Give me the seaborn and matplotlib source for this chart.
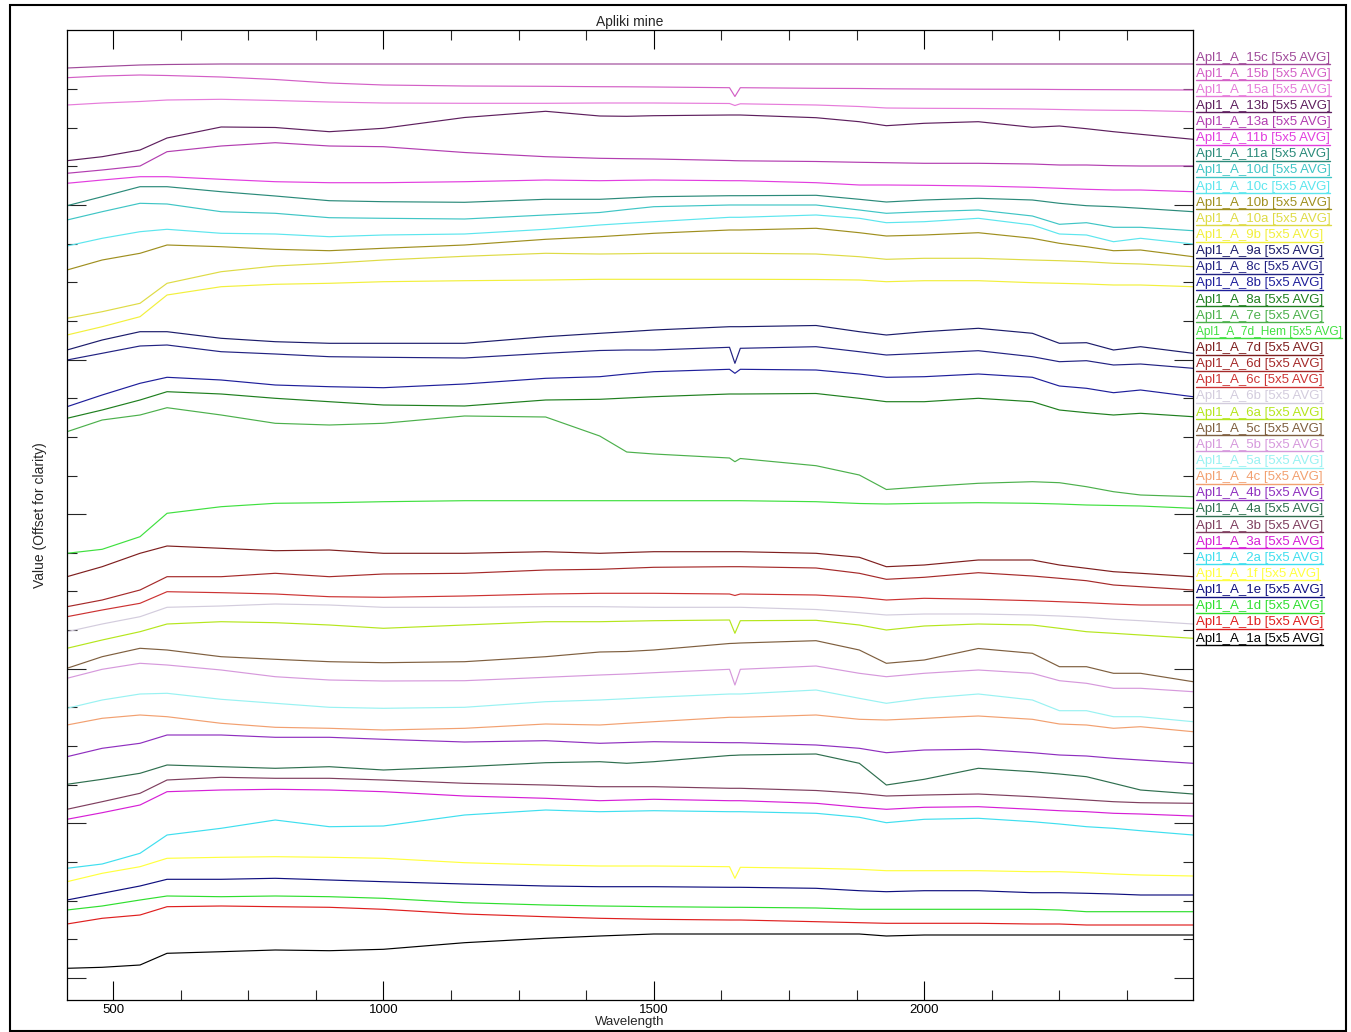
import numpy as np
import pandas as pd
import matplotlib
matplotlib.use("Agg")
import matplotlib.pyplot as plt
import seaborn as sns
from matplotlib.lines import Line2D
from matplotlib.patches import Rectangle
from matplotlib.ticker import FixedLocator, MultipleLocator

# ---------------- data (offset values, arbitrary units) ----------------
wavelength = [415, 480, 550, 600, 700, 800, 900, 1000, 1150, 1300, 1400, 1450, 1500,
              1640, 1650, 1660, 1800, 1880, 1930, 2000, 2100, 2200, 2250, 2300, 2350, 2400, 2497]

names = ["Apl1_A_15c", "Apl1_A_15b", "Apl1_A_15a", "Apl1_A_13b", "Apl1_A_13a", "Apl1_A_11b",
         "Apl1_A_11a", "Apl1_A_10d", "Apl1_A_10c", "Apl1_A_10b", "Apl1_A_10a", "Apl1_A_9b",
         "Apl1_A_9a", "Apl1_A_8c", "Apl1_A_8b", "Apl1_A_8a", "Apl1_A_7e", "Apl1_A_7d_Hem",
         "Apl1_A_7d", "Apl1_A_6d", "Apl1_A_6c", "Apl1_A_6b", "Apl1_A_6a", "Apl1_A_5c",
         "Apl1_A_5b", "Apl1_A_5a", "Apl1_A_4c", "Apl1_A_4b", "Apl1_A_4a", "Apl1_A_3b",
         "Apl1_A_3a", "Apl1_A_2a", "Apl1_A_1f", "Apl1_A_1e", "Apl1_A_1d", "Apl1_A_1b", "Apl1_A_1a"]

colors = ["#A04A9A", "#D35FC6", "#E67BDA", "#5E1F5E", "#B23DB0", "#E23DDF",
          "#2B8A7A", "#3FC5C5", "#5CE6EE", "#9F8F1F", "#DEDB45", "#F2F03C",
          "#1C1C6B", "#222282", "#1F1F9B", "#1F7F1F", "#4CB04C", "#3FE03F",
          "#7F1F1F", "#A52A2A", "#CC3333", "#D3CCDD", "#B5E61D", "#7F5F3F",
          "#D699DC", "#99F2F2", "#F2A070", "#8F2FBF", "#2F6F4F", "#7F3F5F",
          "#D61FD6", "#3FDFEF", "#FFFF3F", "#0F0F7F", "#2FDF2F", "#DF1F1F", "#000000"]

s_15c = [93.20, 93.35, 93.50, 93.55, 93.60, 93.60, 93.60, 93.60, 93.60, 93.60, 93.60, 93.60, 93.60,
         93.60, 93.60, 93.60, 93.60, 93.60, 93.60, 93.60, 93.60, 93.60, 93.60, 93.60, 93.60, 93.60, 93.60]
s_15b = [92.23, 92.40, 92.50, 92.45, 92.30, 92.05, 91.70, 91.50, 91.40, 91.37, 91.33, 91.32, 91.30,
         91.23, 90.35, 91.23, 91.17, 91.15, 91.12, 91.10, 91.08, 91.07, 91.05, 91.04, 91.03, 91.02, 91.00]
s_15a = [89.50, 89.70, 89.85, 90.00, 90.07, 89.95, 89.80, 89.70, 89.67, 89.67, 89.70, 89.70, 89.70,
         89.65, 89.45, 89.62, 89.50, 89.35, 89.20, 89.17, 89.15, 89.10, 89.05, 89.00, 88.97, 88.95, 88.83]
s_13b = [83.93, 84.33, 85.00, 86.20, 87.30, 87.25, 86.83, 87.17, 88.25, 88.87, 88.40, 88.37, 88.43,
         88.50, 88.50, 88.50, 88.23, 87.83, 87.43, 87.67, 87.83, 87.27, 87.40, 87.13, 86.83, 86.57, 86.07]
s_13a = [82.67, 83.00, 83.40, 84.83, 85.40, 85.73, 85.40, 85.33, 84.75, 84.33, 84.17, 84.13, 84.10,
         83.95, 83.93, 83.92, 83.85, 83.77, 83.73, 83.67, 83.67, 83.60, 83.50, 83.50, 83.43, 83.40, 83.40]
s_11b = [81.67, 82.00, 82.33, 82.33, 82.07, 81.83, 81.73, 81.73, 81.83, 82.00, 81.93, 81.97, 82.00,
         81.93, 81.93, 81.93, 81.73, 81.50, 81.50, 81.47, 81.40, 81.27, 81.17, 81.07, 81.00, 81.00, 80.83]
s_11a = [79.43, 80.33, 81.33, 81.33, 80.83, 80.40, 79.93, 79.83, 79.77, 80.07, 80.07, 80.20, 80.33,
         80.43, 80.43, 80.43, 80.47, 80.07, 79.80, 80.00, 80.17, 80.00, 79.67, 79.43, 79.33, 79.17, 78.83]
s_10d = [78.00, 78.83, 79.67, 79.60, 78.83, 78.67, 78.23, 78.17, 78.10, 78.50, 78.75, 79.05, 79.33,
         79.50, 79.50, 79.50, 79.50, 79.00, 78.67, 78.83, 79.00, 78.40, 77.57, 77.73, 77.27, 77.27, 76.93]
s_10c = [75.40, 76.17, 76.83, 77.07, 76.67, 76.60, 76.33, 76.50, 76.60, 77.07, 77.50, 77.67, 77.83,
         78.27, 78.27, 78.27, 78.50, 78.17, 77.73, 77.83, 78.17, 77.50, 76.60, 76.50, 75.83, 76.17, 75.60]
s_10b = [73.00, 74.00, 74.67, 75.50, 75.33, 75.07, 74.93, 75.17, 75.50, 76.07, 76.33, 76.50, 76.67,
         77.00, 77.00, 77.00, 77.17, 76.73, 76.40, 76.50, 76.73, 76.17, 75.67, 75.33, 74.93, 75.00, 74.33]
s_10a = [68.17, 68.83, 69.67, 71.67, 72.83, 73.40, 73.67, 74.00, 74.37, 74.67, 74.60, 74.63, 74.67,
         74.67, 74.67, 74.67, 74.60, 74.33, 74.07, 74.17, 74.17, 74.00, 73.93, 73.83, 73.67, 73.60, 73.33]
s_9b = [66.50, 67.33, 68.33, 70.50, 71.33, 71.57, 71.67, 71.83, 71.93, 72.00, 72.07, 72.07, 72.07,
        72.07, 72.07, 72.07, 72.05, 72.00, 71.83, 71.93, 71.93, 71.73, 71.67, 71.60, 71.50, 71.50, 71.33]
s_9a = [65.00, 66.00, 66.83, 66.83, 66.17, 65.83, 65.67, 65.67, 65.67, 66.33, 66.67, 66.83, 67.00,
        67.33, 67.33, 67.33, 67.45, 66.83, 66.50, 66.83, 67.17, 66.67, 65.67, 65.73, 65.00, 65.33, 64.67]
s_8c = [64.00, 64.67, 65.40, 65.50, 64.83, 64.60, 64.33, 64.27, 64.20, 64.67, 64.95, 65.00, 65.00,
        65.27, 63.67, 65.17, 65.33, 64.83, 64.50, 64.67, 64.93, 64.33, 63.83, 63.93, 63.50, 63.60, 63.17]
s_8b = [59.33, 60.50, 61.67, 62.27, 62.00, 61.50, 61.33, 61.23, 61.60, 62.17, 62.33, 62.60, 62.83,
        63.07, 62.67, 63.07, 63.00, 62.60, 62.27, 62.33, 62.60, 62.27, 61.40, 61.17, 60.73, 61.00, 60.33]
s_8a = [58.17, 59.00, 60.00, 60.83, 60.60, 60.17, 59.83, 59.50, 59.40, 60.00, 60.07, 60.20, 60.33,
        60.60, 60.60, 60.60, 60.65, 60.17, 59.83, 59.83, 60.17, 59.83, 59.00, 58.73, 58.50, 58.67, 58.33]
s_7e = [56.83, 58.00, 58.50, 59.23, 58.50, 57.67, 57.50, 57.67, 58.40, 58.30, 56.40, 54.80, 54.60,
        54.20, 53.83, 54.15, 53.43, 52.50, 51.05, 51.33, 51.67, 51.83, 51.73, 51.33, 50.83, 50.50, 50.33]
s_7d_hem = [44.67, 45.07, 46.33, 48.67, 49.33, 49.67, 49.73, 49.83, 49.93, 49.93, 49.93, 49.93, 49.93,
            49.93, 49.93, 49.93, 49.83, 49.65, 49.60, 49.67, 49.73, 49.67, 49.60, 49.50, 49.45, 49.40, 49.17]
s_7d = [42.33, 43.33, 44.67, 45.40, 45.17, 44.93, 45.00, 44.67, 44.67, 44.83, 44.67, 44.75, 44.83,
        44.83, 44.83, 44.83, 44.67, 44.27, 43.33, 43.50, 44.00, 44.00, 43.50, 43.17, 42.83, 42.67, 42.33]
s_6d = [39.33, 40.00, 41.00, 42.33, 42.33, 42.67, 42.33, 42.60, 42.67, 43.00, 43.07, 43.17, 43.27,
        43.33, 43.33, 43.33, 43.20, 42.67, 42.07, 42.27, 42.73, 42.40, 42.17, 41.93, 41.50, 41.33, 41.00]
s_6c = [38.33, 39.00, 39.67, 40.83, 40.73, 40.60, 40.33, 40.27, 40.40, 40.60, 40.67, 40.67, 40.67,
        40.60, 40.45, 40.60, 40.50, 40.27, 40.00, 40.17, 40.07, 39.93, 39.83, 39.73, 39.60, 39.50, 39.50]
s_6b = [36.83, 37.60, 38.33, 39.27, 39.40, 39.60, 39.50, 39.27, 39.27, 39.33, 39.33, 39.30, 39.27,
        39.27, 39.27, 39.27, 39.05, 38.73, 38.50, 38.60, 38.60, 38.50, 38.40, 38.27, 38.07, 37.93, 37.60]
s_6a = [35.17, 36.00, 36.83, 37.60, 37.83, 37.73, 37.50, 37.17, 37.50, 37.83, 37.83, 37.88, 37.93,
        38.00, 36.67, 37.93, 37.97, 37.50, 37.00, 37.40, 37.60, 37.50, 37.17, 36.83, 36.67, 36.50, 36.17]
s_5c = [33.17, 34.33, 35.17, 35.00, 34.33, 34.07, 33.83, 33.73, 33.83, 34.33, 34.80, 34.85, 35.00,
        35.65, 35.67, 35.70, 35.93, 35.00, 33.67, 34.00, 35.15, 34.67, 33.33, 33.33, 32.67, 32.67, 31.83]
s_5b = [32.17, 33.07, 33.67, 33.50, 33.00, 32.33, 32.00, 31.90, 31.93, 32.27, 32.50, 32.60, 32.73,
        33.07, 31.50, 33.07, 33.40, 32.67, 32.33, 32.67, 33.00, 32.67, 31.93, 31.67, 31.17, 31.17, 30.83]
s_5a = [29.17, 30.00, 30.60, 30.67, 30.07, 29.67, 29.27, 29.17, 29.27, 29.83, 30.00, 30.13, 30.27,
        30.60, 30.60, 30.60, 31.00, 30.17, 29.67, 30.17, 30.60, 30.00, 28.93, 28.93, 28.33, 28.33, 27.83]
s_4c = [27.50, 28.17, 28.50, 28.33, 27.67, 27.27, 27.17, 27.00, 27.17, 27.60, 27.50, 27.67, 27.83,
        28.27, 28.27, 28.27, 28.50, 28.07, 28.00, 28.17, 28.40, 28.07, 27.60, 27.50, 27.17, 27.33, 26.83]
s_4b = [24.33, 25.17, 25.67, 26.50, 26.50, 26.27, 26.27, 26.07, 25.80, 25.93, 25.67, 25.75, 25.83,
        25.73, 25.73, 25.73, 25.50, 25.17, 24.73, 25.00, 25.07, 24.73, 24.50, 24.40, 24.17, 24.00, 23.67]
s_4a = [21.57, 22.07, 22.67, 23.50, 23.33, 23.17, 23.33, 23.00, 23.33, 23.73, 23.83, 23.67, 23.83,
        24.45, 24.47, 24.50, 24.60, 23.67, 21.50, 22.07, 23.17, 22.83, 22.60, 22.33, 21.67, 21.00, 20.60]
s_3b = [19.07, 19.83, 20.67, 22.00, 22.27, 22.17, 22.17, 22.00, 21.67, 21.50, 21.33, 21.33, 21.33,
        21.17, 21.17, 21.17, 20.95, 20.67, 20.40, 20.50, 20.60, 20.33, 20.17, 20.00, 19.83, 19.73, 19.67]
s_3a = [18.07, 18.73, 19.50, 20.83, 21.00, 21.07, 21.00, 20.83, 20.40, 20.17, 19.93, 20.00, 20.07,
        19.93, 19.93, 19.93, 19.67, 19.27, 19.07, 19.27, 19.33, 19.07, 18.93, 18.83, 18.67, 18.60, 18.40]
s_2a = [13.17, 13.60, 14.67, 16.50, 17.17, 18.00, 17.33, 17.40, 18.50, 19.00, 18.83, 18.88, 18.93,
        18.83, 18.83, 18.83, 18.67, 18.27, 17.73, 18.07, 18.17, 17.83, 17.60, 17.33, 17.17, 16.93, 16.50]
s_1f = [11.83, 12.67, 13.33, 14.17, 14.27, 14.33, 14.27, 14.17, 13.73, 13.50, 13.40, 13.40, 13.40,
        13.33, 12.17, 13.27, 13.17, 13.07, 12.93, 12.93, 12.93, 12.83, 12.83, 12.73, 12.60, 12.50, 12.40]
s_1e = [10.00, 10.67, 11.40, 12.07, 12.07, 12.17, 12.00, 11.83, 11.60, 11.40, 11.33, 11.33, 11.33,
        11.27, 11.27, 11.27, 11.17, 10.93, 10.83, 10.93, 10.93, 10.73, 10.73, 10.67, 10.60, 10.50, 10.50]
s_1d = [9.00, 9.40, 10.00, 10.40, 10.33, 10.40, 10.33, 10.17, 9.73, 9.50, 9.40, 9.37, 9.33,
        9.27, 9.27, 9.27, 9.20, 9.07, 9.07, 9.07, 9.07, 9.07, 9.00, 8.83, 8.83, 8.83, 8.83]
s_1b = [7.60, 8.17, 8.50, 9.33, 9.40, 9.33, 9.27, 9.07, 8.60, 8.33, 8.17, 8.12, 8.07,
        8.00, 8.00, 8.00, 7.83, 7.73, 7.67, 7.67, 7.67, 7.60, 7.60, 7.50, 7.50, 7.50, 7.50]
s_1a = [3.17, 3.27, 3.50, 4.67, 4.83, 5.00, 4.93, 5.07, 5.73, 6.17, 6.40, 6.50, 6.60,
        6.60, 6.60, 6.60, 6.60, 6.60, 6.40, 6.50, 6.50, 6.50, 6.50, 6.50, 6.50, 6.50, 6.50]

series = [s_15c, s_15b, s_15a, s_13b, s_13a, s_11b, s_11a, s_10d, s_10c, s_10b, s_10a, s_9b,
          s_9a, s_8c, s_8b, s_8a, s_7e, s_7d_hem, s_7d, s_6d, s_6c, s_6b, s_6a, s_5c,
          s_5b, s_5a, s_4c, s_4b, s_4a, s_3b, s_3a, s_2a, s_1f, s_1e, s_1d, s_1b, s_1a]

legend_suffix = " [5x5 AVG]"

# ---------------- build long table ----------------
rows = []
for name, vals in zip(names, series):
    for w, v in zip(wavelength, vals):
        rows.append((name, w, v))
df = pd.DataFrame(rows, columns=["Sample", "Wavelength", "Value"])

# ---------------- figure ----------------
sns.set_theme(style="white")
FONT = ["Liberation Sans", "DejaVu Sans"]
plt.rcParams["font.family"] = FONT

W, H = 1351, 1032
fig = plt.figure(figsize=(W / 100, H / 100), dpi=100)
fig.patch.set_facecolor("white")
ax = fig.add_axes([67 / W, 1 - 1000 / H, (1193 - 67) / W, (1000 - 30) / H])
ax.set_facecolor("white")

sns.lineplot(data=df, x="Wavelength", y="Value", hue="Sample", hue_order=names,
             palette=dict(zip(names, colors)), estimator=None, sort=False,
             legend=False, linewidth=0.85, ax=ax)

ax.set_xlim(415, 2497)
ax.set_ylim(0, 97)

# x ticks (both top and bottom, inward)
ax.xaxis.set_major_locator(FixedLocator([500, 1000, 1500, 2000]))
ax.xaxis.set_minor_locator(MultipleLocator(125))
ax.tick_params(axis="x", which="major", direction="in", length=14, width=0.8,
               top=True, bottom=True, labelsize=9.5, pad=3, colors="black")
ax.tick_params(axis="x", which="minor", direction="in", length=7, width=0.8,
               top=True, bottom=True)

# y ticks (unlabelled, inward, both sides)
ystep = 3.865
yminor = [2.2 + k * ystep for k in range(24)]
ymajor = [yminor[k] for k in range(0, 24, 4)]
ax.yaxis.set_major_locator(FixedLocator(ymajor))
ax.yaxis.set_minor_locator(FixedLocator([v for i, v in enumerate(yminor) if i % 4]))
ax.tick_params(axis="y", which="major", direction="in", length=14, width=0.8,
               left=True, right=True, labelleft=False)
ax.tick_params(axis="y", which="minor", direction="in", length=7, width=0.8,
               left=True, right=True)

for sp in ax.spines.values():
    sp.set_color("black")
    sp.set_linewidth(0.9)
    sp.set_visible(True)

ax.set_xlabel("Wavelength", fontsize=9.5, labelpad=0)
ax.set_ylabel("Value (Offset for clarity)", fontsize=10, labelpad=11)
ax.set_title("Apliki mine", fontsize=10, pad=3)

# ---------------- legend as coloured, underlined text ----------------
texts = []
for i, (name, col) in enumerate(zip(names, colors)):
    yc = 57.5 + i * 16.14
    label = name + legend_suffix
    fs = 9.5 if len(label) <= 21 else 8.6
    t = fig.text(1196 / W, 1 - yc / H, label, color=col,
                 fontsize=fs, ha="left", va="center", family=FONT)
    texts.append((t, col))

fig.canvas.draw()
renderer = fig.canvas.get_renderer()
for t, col in texts:
    bb = t.get_window_extent(renderer)
    y = (bb.y0 - 0.5) / H
    fig.add_artist(Line2D([bb.x0 / W, min(bb.x1, 1344) / W], [y, y],
                          transform=fig.transFigure, color=col, linewidth=1.0))

# outer frame
fig.add_artist(Rectangle((10 / W, 1 / H), (1346 - 10) / W, (1032 - 5 - 1) / H,
                         transform=fig.transFigure, fill=False, edgecolor="black",
                         linewidth=1.5))

fig.savefig("out.png", dpi=100)
